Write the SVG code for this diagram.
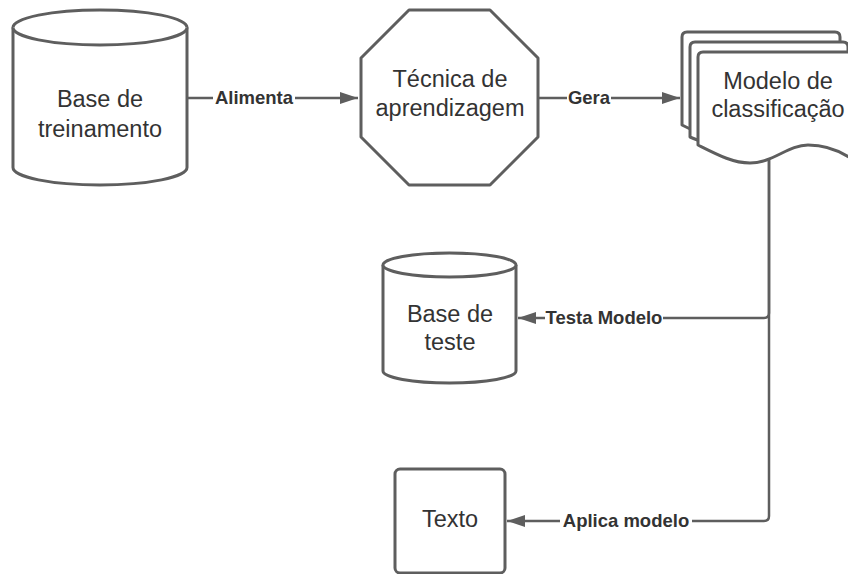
<svg xmlns="http://www.w3.org/2000/svg" width="848" height="574" viewBox="0 0 848 574">
<style>
.sh{fill:#fff;stroke:#5e5e5e;stroke-width:3;stroke-linejoin:round}
.ln{fill:none;stroke:#5e5e5e;stroke-width:2.5;stroke-linejoin:round}
.t{font-family:"Liberation Sans",Arial,sans-serif;font-size:23.5px;fill:#333;text-anchor:middle}
.lb{font-family:"Liberation Sans",Arial,sans-serif;font-size:18.5px;font-weight:bold;fill:#333;text-anchor:middle}
.bg{fill:#fff}
</style>
<defs>
<marker id="ah" markerUnits="userSpaceOnUse" markerWidth="20" markerHeight="14" refX="18" refY="7" orient="auto">
<path d="M0,1 L18,7 L0,13 Z" fill="#5e5e5e"/>
</marker>
</defs>
<g id="connectors">
<path class="ln" d="M188,98 H358" marker-end="url(#ah)"/>
<rect class="bg" x="213" y="88" width="82" height="20"/>
<text class="lb" x="254" y="104">Alimenta</text>
<path class="ln" d="M539,98 H680" marker-end="url(#ah)"/>
<rect class="bg" x="567" y="88" width="44" height="20"/>
<text class="lb" x="589" y="104">Gera</text>
<path class="ln" d="M769,158 V313 Q769,318 764,318 H518" marker-end="url(#ah)"/>
<rect class="bg" x="545" y="308" width="118" height="20"/>
<text class="lb" x="604" y="324">Testa Modelo</text>
<path class="ln" d="M769,158 V516 Q769,521 764,521 H507" marker-end="url(#ah)"/>
<rect class="bg" x="560" y="511" width="132" height="20"/>
<text class="lb" x="626" y="527">Aplica modelo</text>
</g>
<g id="base-treinamento">
<path class="sh" d="M13,27.5 A87,17.5 0 0 1 187,27.5 V167.5 A87,17.5 0 0 1 13,167.5 Z"/>
<path class="sh" fill="none" d="M13,27.5 A87,17.5 0 0 0 187,27.5"/>
<text class="t" x="100" y="107">Base de</text>
<text class="t" x="100" y="137">treinamento</text>
</g>
<g id="tecnica">
<path class="sh" d="M409,10 H490 L538,58 V137 L490,185 H409 L361,137 V58 Z"/>
<text class="t" x="450" y="87">Técnica de</text>
<text class="t" x="450" y="116">aprendizagem</text>
</g>
<g id="modelo">
<path class="sh" d="M682,37 Q682,32 687,32 H835 Q840,32 840,37 V135 C827,128 812,125 792,125 C772,125 757,142 734,142 C717,142 702,135 682,125 Z"/>
<path class="sh" d="M690,47 Q690,42 695,42 H843 Q848,42 848,47 V145 C835,138 820,135 800,135 C780,135 765,152 742,152 C725,152 710,145 690,137 Z"/>
<path class="sh" d="M698,57 Q698,52 703,52 H851 Q856,52 856,57 V162 C843,152 828,145 808,145 C788,145 773,163 750,163 C733,163 718,155 698,145 Z"/>
<text class="t" x="778" y="89">Modelo de</text>
<text class="t" x="778" y="117">classificação</text>
</g>
<g id="base-teste">
<path class="sh" d="M383,265 A66.5,12 0 0 1 516,265 V371 A66.5,12 0 0 1 383,371 Z"/>
<path class="sh" fill="none" d="M383,265 A66.5,12 0 0 0 516,265"/>
<text class="t" x="450" y="322">Base de</text>
<text class="t" x="450" y="350">teste</text>
</g>
<g id="texto">
<rect class="sh" x="395" y="469" width="110" height="104" rx="5"/>
<text class="t" x="450" y="527">Texto</text>
</g>
</svg>
